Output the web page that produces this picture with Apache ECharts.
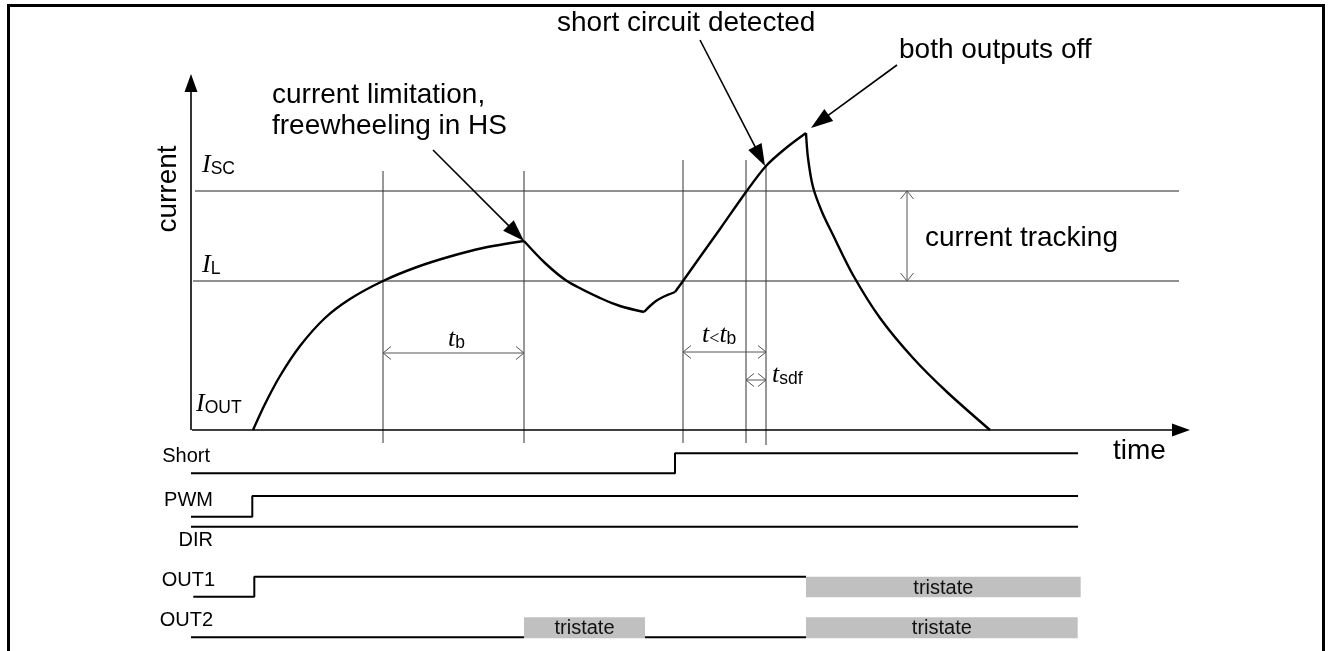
<!DOCTYPE html>
<html><head><meta charset="utf-8">
<script src="https://cdn.jsdelivr.net/npm/echarts@6/dist/echarts.min.js"></script>
<style>html,body{margin:0;padding:0;background:#fff}#c{width:1330px;height:651px}</style>
</head><body><div id="c"></div>
<script>
// ---------- DATA (time: 0 at origin; current: 0 on the time axis) ----------
const rise1T = [6.2, 7.4, 8.9, 10.9, 13.4, 15.9, 19.2, 22.6, 25.9, 29.2, 33.3];
const rise1I = [0, 0.26, 0.54, 0.84, 1.12, 1.31, 1.49, 1.63, 1.735, 1.82, 1.89];
const fall1T = [33.3, 35.4, 37.6, 40.9, 42.9, 45.3];
const fall1I = [1.89, 1.67, 1.49, 1.32, 1.24, 1.18];
const bumpT = [45.3, 45.9, 46.5, 47.2, 47.9, 48.4];
const bumpI = [1.18, 1.24, 1.29, 1.33, 1.36, 1.38];
const rise2T = [48.4, 49.2, 50.9, 52.9, 55.5, 57.5, 59.5, 61.5];
const rise2I = [1.38, 1.49, 1.73, 2.01, 2.38, 2.64, 2.82, 2.97];
const decayT = [61.5, 61.7, 62.2, 63.1, 64.2, 66.2, 68.9, 72.2, 75.6, 79.9];
const decayI = [2.97, 2.72, 2.43, 2.18, 1.95, 1.55, 1.12, 0.72, 0.38, 0];

const levelI = [2.39, 1.49];          // I_SC, I_L
const levelStartT = [0.4, 0.2];
const levelEndT = [98.8, 98.8];

const guideT = [19.2, 33.3, 49.2, 55.5, 57.5];
const guideTopI = [2.59, 2.59, 2.70, 2.70, 2.64];
const guideBottomI = [-0.13, -0.13, -0.13, -0.13, -0.15];

const axisArrows = [[0, 0, 0, 3.56], [0.1, 0, 99.9, 0]];
const calloutArrows = [[24.2, 2.80, 33.3, 1.89], [50.9, 3.90, 57.4, 2.64], [70.6, 3.65, 62.0, 3.02]];
const spanArrows = [[19.2, 0.77, 33.3, 0.77], [49.2, 0.78, 57.5, 0.78], [55.5, 0.50, 57.5, 0.50], [71.6, 1.49, 71.6, 2.39]];

const noteText = ['current limitation,', 'freewheeling in HS', 'short circuit detected', 'both outputs off', 'current tracking', 'time'];
const noteT = [8.1, 8.1, 36.6, 70.8, 73.4, 92.2];
const noteI = [3.35, 3.04, 4.07, 3.80, 1.917, -0.215];

const axisTitle = 'current';
const axisTitleT = -2.27, axisTitleI = 2.41;

const symText = ['{i|I}{s|SC}', '{i|I}{s|L}', '{i|I}{s|OUT}', '{i|t}{s|b}', '{i|t}{lt|<}{i|t}{s|b}', '{i|t}{s|sdf}'];
const symT = [1.1, 1.1, 0.5, 25.7, 51.1, 58.1];
const symI = [2.658, 1.658, 0.265, 0.92, 0.96, 0.56];

// digital lanes (lane units)
const laneNames = ['Short', 'PWM', 'DIR', 'OUT1', 'OUT2'];
const laneLabelT = [1.9, 2.2, 2.2, 2.4, 2.2];
const laneLabelY = [19.5, 15.1, 11.1, 7.1, 3.1];
const laneLowY = [17.77, 13.43, 12.43, 5.43, 1.37];
const laneHighY = [19.77, 15.5, 12.43, 7.43, 3.37];
const shortEdges = [0, 48.4, 88.7], shortLevels = [0, 1];
const pwmEdges = [0, 6.13, 88.7], pwmLevels = [0, 1];
const dirEdges = [0, 88.7], dirLevels = [0];
const out1Edges = [0.23, 6.33, 61.5], out1Levels = [0, 1];
const out2Edges = [0, 33.3, 45.4, 61.5], out2Levels = [0, null, 0];
const triT0 = [61.5, 33.3, 61.5];
const triT1 = [88.97, 45.4, 88.67];
const triTop = [7.43, 3.37, 3.37];
const triBottom = [5.37, 1.27, 1.27];
const triLabel = 'tristate';

// ---------- BUILD ----------
const FONT = '"Liberation Sans", Arial, sans-serif';
const SERIF = '"Liberation Serif", "Times New Roman", serif';
const zip = (a, b) => a.map((v, i) => [v, b[i]]);

function stepData(edges, levels, lane) {
  const out = [];
  for (let i = 0; i < levels.length; i++) {
    if (levels[i] === null) { out.push([null, null]); continue; }
    const y = levels[i] ? laneHighY[lane] : laneLowY[lane];
    out.push([edges[i], y], [edges[i + 1], y]);
  }
  return out;
}

function curve(t, I) {
  return { type: 'line', xAxisIndex: 0, yAxisIndex: 0, data: zip(t, I), smooth: 0.3,
    symbol: 'none', silent: true, lineStyle: { color: '#000', width: 2.4 }, z: 5 };
}
function digital(edges, levels, lane) {
  return { type: 'line', xAxisIndex: 1, yAxisIndex: 1, data: stepData(edges, levels, lane),
    symbol: 'none', silent: true, connectNulls: false, lineStyle: { color: '#000', width: 2 }, z: 5 };
}

function arrowRender(params, api) {
  const p1 = api.coord([api.value(0), api.value(1)]);
  const p2 = api.coord([api.value(2), api.value(3)]);
  const kind = api.value(4);
  const dx = p2[0] - p1[0], dy = p2[1] - p1[1], len = Math.hypot(dx, dy);
  const ux = dx / len, uy = dy / len, nx = -uy, ny = ux;
  const ch = [];
  if (kind === 0 || kind === 2) {
    const L = kind === 0 ? 22 : 18, W = kind === 0 ? 7.5 : 6.5;
    const bx = p2[0] - ux * L, by = p2[1] - uy * L;
    ch.push({ type: 'line', shape: { x1: p1[0], y1: p1[1], x2: bx + ux * 2, y2: by + uy * 2 }, style: { stroke: '#000', lineWidth: 1.6 } });
    ch.push({ type: 'polygon', shape: { points: [[p2[0], p2[1]], [bx + nx * W, by + ny * W], [bx - nx * W, by - ny * W]] }, style: { fill: '#000' } });
  } else {
    const L = 8, W = 6.5, col = '#555';
    ch.push({ type: 'line', shape: { x1: p1[0], y1: p1[1], x2: p2[0], y2: p2[1] }, style: { stroke: col, lineWidth: 1 } });
    [[p1, 1], [p2, -1]].forEach(([p, s]) => {
      const bx = p[0] + s * ux * L, by = p[1] + s * uy * L;
      ch.push({ type: 'polyline', shape: { points: [[bx + nx * W, by + ny * W], [p[0], p[1]], [bx - nx * W, by - ny * W]] }, style: { stroke: col, lineWidth: 1, fill: null } });
    });
  }
  return { type: 'group', children: ch };
}

function vlineRender(params, api) {
  const a = api.coord([api.value(0), api.value(1)]);
  const b = api.coord([api.value(0), api.value(2)]);
  return { type: 'line', shape: { x1: a[0], y1: a[1], x2: b[0], y2: b[1] }, style: { stroke: '#333', lineWidth: 1 } };
}
function hlineRender(params, api) {
  const a = api.coord([api.value(0), api.value(2)]);
  const b = api.coord([api.value(1), api.value(2)]);
  return { type: 'line', shape: { x1: a[0], y1: a[1], x2: b[0], y2: b[1] }, style: { stroke: '#222', lineWidth: 1 } };
}

const richSym = {
  i: { fontFamily: SERIF, fontStyle: 'italic', fontSize: 26, lineHeight: 28, verticalAlign: 'bottom', color: '#000' },
  lt: { fontFamily: SERIF, fontSize: 18, lineHeight: 28, verticalAlign: 'bottom', color: '#000' },
  s: { fontFamily: FONT, fontSize: 17.5, lineHeight: 18, verticalAlign: 'bottom', color: '#000' }
};

const series = [
  { type: 'custom', xAxisIndex: 0, yAxisIndex: 0, silent: true, z: 2,
    data: levelI.map((v, i) => [levelStartT[i], levelEndT[i], v]), renderItem: hlineRender },
  { type: 'custom', xAxisIndex: 0, yAxisIndex: 0, silent: true, z: 2,
    data: guideT.map((t, i) => [t, guideTopI[i], guideBottomI[i]]), renderItem: vlineRender },
  curve(rise1T, rise1I), curve(fall1T, fall1I), curve(bumpT, bumpI), curve(rise2T, rise2I), curve(decayT, decayI),
  { type: 'custom', xAxisIndex: 0, yAxisIndex: 0, silent: true, z: 6,
    data: [...axisArrows.map(a => [...a, 2]), ...calloutArrows.map(a => [...a, 0]), ...spanArrows.map(a => [...a, 1])],
    renderItem: arrowRender },
  { type: 'custom', xAxisIndex: 0, yAxisIndex: 0, silent: true, z: 7,
    data: noteText.map((s, i) => [noteT[i], noteI[i], i]),
    renderItem: (p, api) => {
      const c = api.coord([api.value(0), api.value(1)]);
      return { type: 'text', x: c[0], y: c[1], style: { text: noteText[api.value(2)], fontFamily: FONT, fontSize: 28, fill: '#000', align: 'left', verticalAlign: 'middle' } };
    } },
  { type: 'custom', xAxisIndex: 0, yAxisIndex: 0, silent: true, z: 7,
    data: [[axisTitleT, axisTitleI]],
    renderItem: (p, api) => {
      const c = api.coord([api.value(0), api.value(1)]);
      return { type: 'text', x: c[0], y: c[1], rotation: Math.PI / 2, style: { text: axisTitle, fontFamily: FONT, fontSize: 28, fill: '#000', align: 'center', verticalAlign: 'middle' } };
    } },
  { type: 'custom', xAxisIndex: 0, yAxisIndex: 0, silent: true, z: 7,
    data: symText.map((s, i) => [symT[i], symI[i], i]),
    renderItem: (p, api) => {
      const c = api.coord([api.value(0), api.value(1)]);
      return { type: 'text', x: c[0], y: c[1], style: { text: symText[api.value(2)], rich: richSym, align: 'left', verticalAlign: 'middle' } };
    } },
  digital(shortEdges, shortLevels, 0), digital(pwmEdges, pwmLevels, 1), digital(dirEdges, dirLevels, 2),
  digital(out1Edges, out1Levels, 3), digital(out2Edges, out2Levels, 4),
  { type: 'custom', xAxisIndex: 1, yAxisIndex: 1, silent: true, z: 4,
    data: triT0.map((t, i) => [t, triT1[i], triTop[i], triBottom[i]]),
    renderItem: (p, api) => {
      const a = api.coord([api.value(0), api.value(2)]);
      const b = api.coord([api.value(1), api.value(3)]);
      return { type: 'group', children: [
        { type: 'rect', shape: { x: a[0], y: a[1], width: b[0] - a[0], height: b[1] - a[1] }, style: { fill: '#c0c0c0' } },
        { type: 'text', x: (a[0] + b[0]) / 2, y: (a[1] + b[1]) / 2 + 1, style: { text: triLabel, fontFamily: FONT, fontSize: 20, fill: '#111', align: 'center', verticalAlign: 'middle' } }
      ] };
    } },
  { type: 'custom', xAxisIndex: 1, yAxisIndex: 1, silent: true, z: 7,
    data: laneNames.map((s, i) => [laneLabelT[i], laneLabelY[i], i]),
    renderItem: (p, api) => {
      const c = api.coord([api.value(0), api.value(1)]);
      return { type: 'text', x: c[0], y: c[1], style: { text: laneNames[api.value(2)], fontFamily: FONT, fontSize: 20, fill: '#000', align: 'right', verticalAlign: 'middle' } };
    } }
];

const axX = { type: 'value', min: -19.1, max: 113.9, show: false };
const chart = echarts.init(document.getElementById('c'));
chart.setOption({
  animation: false,
  backgroundColor: '#fff',
  grid: [{ left: 0, right: 0, top: 0, height: 460 }, { left: 0, right: 0, top: 440, bottom: 0 }],
  xAxis: [Object.assign({ gridIndex: 0 }, axX), Object.assign({ gridIndex: 1 }, axX)],
  yAxis: [{ type: 'value', gridIndex: 0, min: -0.3, max: 4.3, show: false },
          { type: 'value', gridIndex: 1, min: 0, max: 21.1, show: false }],
  graphic: [{ type: 'rect', silent: true, z: 100, shape: { x: 8.5, y: 5.5, width: 1315, height: 700 }, style: { fill: 'none', stroke: '#000', lineWidth: 3 } }],
  series: series
});
</script></body></html>
